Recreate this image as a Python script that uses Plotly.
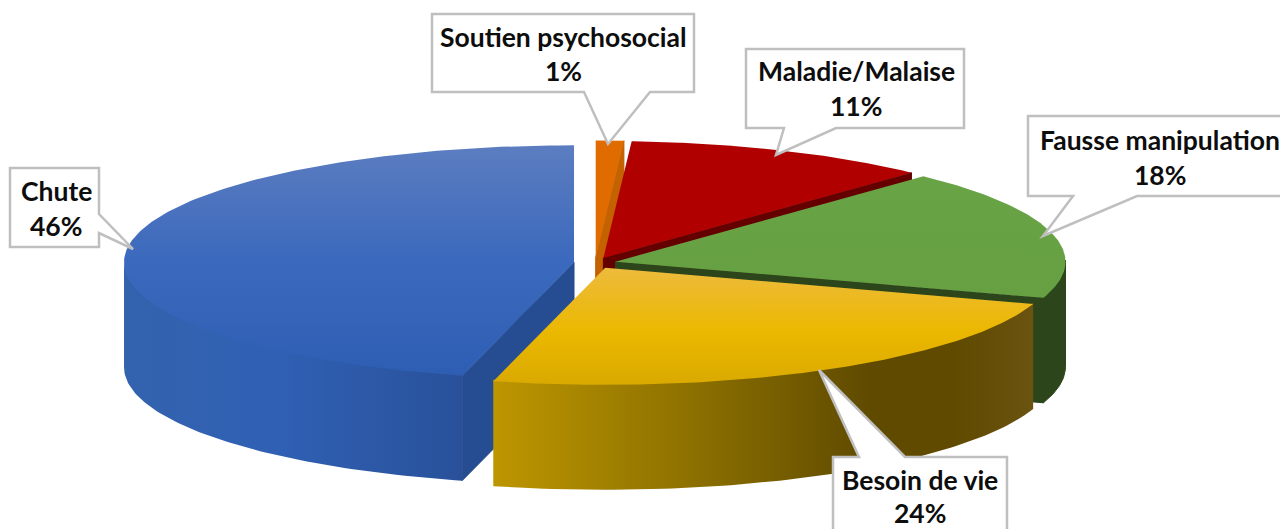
import numpy as np
import plotly.graph_objects as go

# ---- data (clockwise from 12 o'clock)
categories = ["Soutien psychosocial", "Maladie/Malaise", "Fausse manipulation", "Besoin de vie", "Chute"]
values = [1, 11, 18, 24, 46]
# back-to-front drawing order
draw_order = ["Soutien psychosocial", "Maladie/Malaise", "Fausse manipulation", "Chute", "Besoin de vie"]

# ---- projection of the tilted pie on the page
CX, CY, A, B, DEPTH, EXPLODE = 595, 263, 450, 117, 105, 0.047
SEAM = 1.5  # walls tuck under the top face by this much

# ---- styles (vertical gradients run bottom -> top)
TOP = {
    "Soutien psychosocial": [[0, "#e06c00"], [1, "#e06c00"]],
    "Maladie/Malaise": [[0, "#b00000"], [1, "#b00000"]],
    "Fausse manipulation": [[0, "#66a042"], [1, "#68a345"]],
    "Besoin de vie": [[0, "#d9a900"], [0.45, "#ebb800"], [1, "#edbb3c"]],
    "Chute": [[0, "#2e5eb4"], [0.5, "#3b69bd"], [1, "#5c7dc0"]],
}
CUT = {
    "Soutien psychosocial": "#c46100",
    "Maladie/Malaise": "#640000",
    "Fausse manipulation": "#2c451b",
    "Chute": "#264d92",
}
OUTER = {
    "Besoin de vie": [[0, "#bd9600"], [0.35, "#8f7200"], [0.7, "#5f4a00"], [0.85, "#5f4a00"], [1, "#6b5310"]],
    "Chute": [[0, "#3363ad"], [0.45, "#3060b4"], [1, "#29519a"]],
}
OUTER_SOLID = {"Fausse manipulation": "#2c451b"}

# callout geometry on the page: box (x0, y0, x1, y1), pointer base and tip
CALLOUTS = {
    "Soutien psychosocial": dict(box=(432, 14, 694, 92), side="b", base=(584, 650), tip=(608, 144), text=(563, 37, 71)),
    "Maladie/Malaise": dict(box=(746, 49, 964, 128), side="b", base=(784, 836), tip=(776, 155), text=(856, 71, 106)),
    "Fausse manipulation": dict(box=(1028, 116, 1290, 196), side="b", base=(1073, 1137), tip=(1043, 236), text=(1160, 140, 175)),
    "Besoin de vie": dict(box=(833, 457, 1007, 540), side="t", base=(859, 905), tip=(819, 370), text=(920, 480, 513)),
    "Chute": dict(box=(10, 168, 99, 247), side="r", base=(214, 233), tip=(133, 249), text=(56, 191, 226)),
}
FONT = "Lato"
FONT_SIZE = 26.5


def rim(c, a0, a1, n=80):
    t = np.radians(np.linspace(a0, a1, n))
    return c[0] + A * np.sin(t), c[1] - B * np.cos(t)


def add_poly(fig, xs, ys, gradient=None, orient="vertical", color=None):
    kw = dict(fillgradient=dict(type=orient, colorscale=gradient)) if gradient else dict(fillcolor=color)
    line = dict(width=0) if gradient else dict(width=1, color=color)
    fig.add_trace(go.Scatter(x=np.r_[xs, xs[0]], y=np.r_[ys, ys[0]], mode="lines", fill="toself",
                             line=line, hoverinfo="skip", showlegend=False, **kw))


total = sum(values)
spans, start = {}, 0.0
for name, v in zip(categories, values):
    spans[name] = (start, start + 360 * v / total)
    start += 360 * v / total

centers = {}
for name, (a0, a1) in spans.items():
    mid = np.radians((a0 + a1) / 2)
    centers[name] = (CX + A * EXPLODE * np.sin(mid), CY - B * EXPLODE * np.cos(mid))

fig = go.Figure()
for name in draw_order:
    a0, a1 = spans[name]
    c = centers[name]
    lo, hi = max(a0, 90), min(a1, 270)
    if hi > lo and (name in OUTER or name in OUTER_SOLID):
        x, y = rim(c, lo, hi)
        add_poly(fig, np.r_[x, x[::-1]], np.r_[y - SEAM, y[::-1] + DEPTH], gradient=OUTER.get(name),
                 orient="horizontal", color=OUTER_SOLID.get(name))
    if name in CUT:
        ex, ey = rim(c, a0, a0, 1) if name == "Chute" else rim(c, a1, a1, 1)
        add_poly(fig, np.array([c[0], ex[0], ex[0], c[0]]),
                 np.array([c[1], ey[0], ey[0] + DEPTH, c[1] + DEPTH]), color=CUT[name])
    x, y = rim(c, a0, a1, 160)
    add_poly(fig, np.r_[c[0], x], np.r_[c[1], y], gradient=TOP[name])

# callouts
shapes, annotations = [], []
for name, v in zip(categories, values):
    co = CALLOUTS[name]
    x0, y0, x1, y1 = co["box"]
    b0, b1 = co["base"]
    tx, ty = co["tip"]
    if co["side"] == "b":
        pts = [(x0, y0), (x1, y0), (x1, y1), (b1, y1), (tx, ty), (b0, y1), (x0, y1)]
    elif co["side"] == "t":
        pts = [(x0, y0), (b0, y0), (tx, ty), (b1, y0), (x1, y0), (x1, y1), (x0, y1)]
    else:
        pts = [(x0, y0), (x1, y0), (x1, b0), (tx, ty), (x1, b1), (x1, y1), (x0, y1)]
    path = "M " + " L ".join(f"{p[0]} {p[1]}" for p in pts) + " Z"
    shapes.append(dict(type="path", path=path, xref="x", yref="y", fillcolor="white",
                       line=dict(color="#bfbfbf", width=2.5), layer="above"))
    cx_, ly0, ly1 = co["text"]
    for txt, ly in ((name, ly0), (f"{v}%", ly1)):
        annotations.append(dict(x=cx_, y=ly, xref="x", yref="y", text=f"<b>{txt}</b>", showarrow=False,
                                xanchor="center", yanchor="middle",
                                font=dict(family=FONT, size=FONT_SIZE, color="#0d0d0d")))

fig.update_layout(
    width=1280, height=529, margin=dict(l=0, r=0, t=0, b=0),
    paper_bgcolor="white", plot_bgcolor="white", showlegend=False,
    shapes=shapes, annotations=annotations,
    xaxis=dict(range=[0, 1280], visible=False, fixedrange=True),
    yaxis=dict(range=[529, 0], visible=False, fixedrange=True),
)
fig.write_html("out.html", config=dict(displayModeBar=False),
               post_script="document.body.style.margin='0';document.documentElement.style.overflow='hidden';")
